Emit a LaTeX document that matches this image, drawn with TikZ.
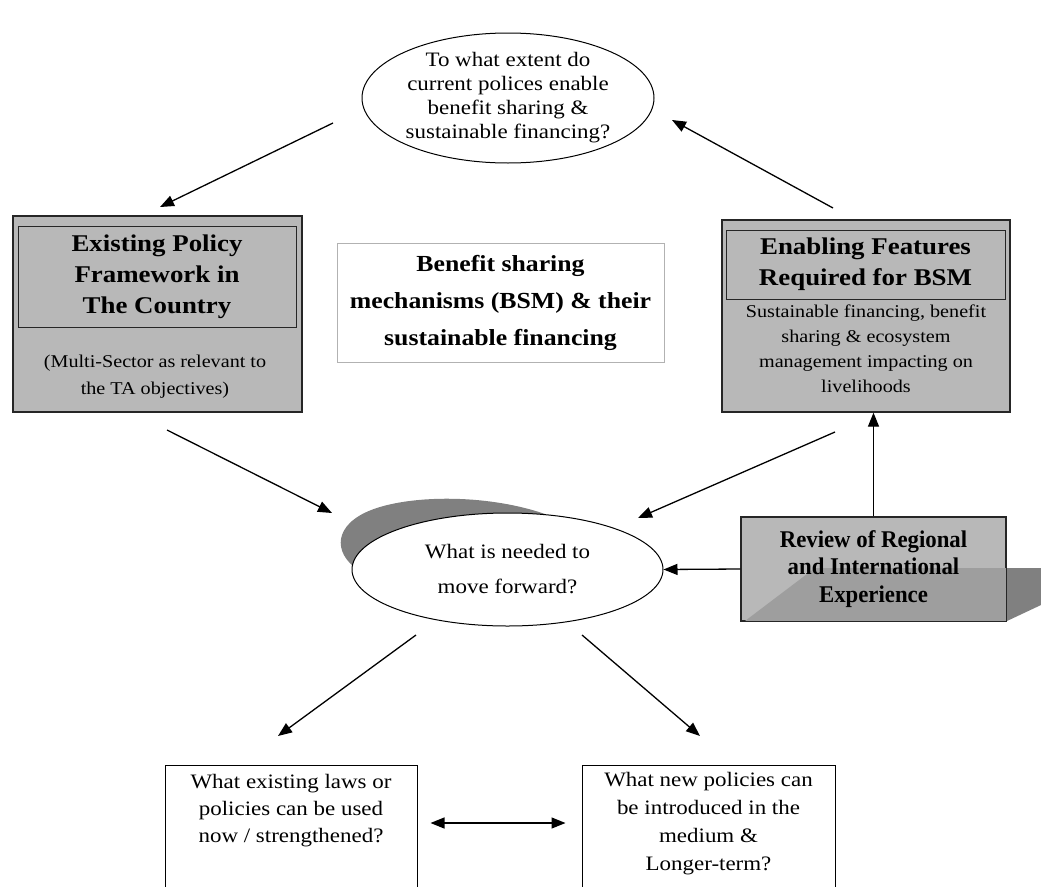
\documentclass[tikz,border=0pt]{standalone}
\usepackage{fontspec}
\setmainfont{Liberation Serif}[FakeStretch=1.12]
\newfontfamily\condfont{Liberation Serif}[FakeStretch=0.95]
\usetikzlibrary{arrows.meta,shapes.geometric}
\definecolor{boxgray}{gray}{0.72}
\definecolor{shadegray}{gray}{0.5}
\definecolor{innershade}{gray}{0.62}

\begin{document}
\begin{tikzpicture}[x = 1pt, y = -1pt,
    arr/.style = {line width = 1.3pt, -{Triangle[length = 14pt, width = 11pt]}},
    dblarr/.style = {line width = 1.3pt, {Triangle[length = 14pt, width = 11pt]}-{Triangle[length = 14pt, width = 11pt]}},
    graybox/.style = {draw = black!85, line width = 1.3pt, fill = boxgray, inner sep = 0pt},
    headbox/.style = {draw = black!85, line width = 1pt, inner sep = 0pt, align = center,
      font = \fontsize{24}{31}\selectfont\bfseries},
    question/.style = {ellipse, draw, line width = 1pt, fill = white, inner sep = 0pt, align = center,
      font = \fontsize{20.5}{24}\selectfont},
    whitebox/.style = {draw, line width = 1pt, fill = white, inner sep = 0pt},
    note/.style = {align = center, inner sep = 0pt, font = \fontsize{18}{25}\selectfont}]

  \useasboundingbox (0, 0) rectangle (1041, 886);
  \clip (0, 0) rectangle (1041, 886);

  % top question
  \node[question, minimum width = 292pt, minimum height = 130pt] (topq) at (508, 98)
    {To what extent do\\current polices enable\\benefit sharing \&\\sustainable financing?};

  % left box
  \node[graybox, minimum width = 289pt, minimum height = 196pt] (policy) at (157.5, 314) {};
  \node[headbox, minimum width = 278pt, minimum height = 101pt] (policyhead) at (157, 276.5)
    {Existing Policy\\Framework in\\The Country};
  \node[note, font = \fontsize{18}{27}\selectfont] (policynote) at (155, 377)
    {(Multi-Sector as relevant to\\the TA objectives)};

  % right box
  \node[graybox, minimum width = 288pt, minimum height = 192pt] (enable) at (866, 316) {};
  \node[headbox, minimum width = 279pt, minimum height = 69pt] (enablehead) at (865.5, 264.5)
    {Enabling Features\\Required for BSM};
  \node[note] (enablenote) at (866, 349)
    {Sustainable financing, benefit\\sharing \& ecosystem\\management impacting on\\livelihoods};

  % centre title
  \node[draw = black!30, line width = 0.8pt, minimum width = 327pt, minimum height = 119pt,
    align = center, font = \fontsize{23}{37}\selectfont\bfseries] (bsm) at (500.5, 302.5)
    {Benefit sharing\\mechanisms (BSM) \& their\\sustainable financing};

  % middle question with its shadow
  \fill[shadegray] (353, 566) .. controls (332, 548) and (336, 520) .. (380, 507)
    .. controls (420, 495) and (490, 495) .. (545, 514) -- (507, 569) -- cycle;
  \node[question, font = \fontsize{20.5}{35}\selectfont, minimum width = 311pt,
    minimum height = 113pt] (midq) at (507.5, 569.5) {What is needed to\\move forward?};

  % review box with its shadow
  \fill[shadegray] (745, 621) -- (815, 568) -- (1041, 568) -- (1041, 605) -- (1007, 621) -- cycle;
  \node[graybox, minimum width = 265pt, minimum height = 104pt] (review) at (873.5, 569) {};
  \fill[innershade] (745, 621) -- (815, 568) -- (1006, 568) -- (1006, 621) -- cycle;
  \draw[draw = black!85, line width = 1.3pt] (review.north west) rectangle (review.south east);
  \node[align = center, font = \fontsize{24}{27.5}\condfont\bfseries] (reviewtext) at (873.5, 569)
    {Review of Regional\\and International\\Experience};

  % bottom boxes
  \node[whitebox, minimum width = 252pt, minimum height = 135pt] (oldlaws) at (291, 832.5) {};
  \node[note, anchor = north, font = \fontsize{20.5}{27}\selectfont] at (291, 774)
    {What existing laws or\\policies can be used\\now / strengthened?};
  \node[whitebox, minimum width = 253pt, minimum height = 135pt] (newpol) at (708.5, 832.5) {};
  \node[note, anchor = north, font = \fontsize{20.5}{28}\selectfont] at (708.5, 772)
    {What new policies can\\be introduced in the\\medium \&\\Longer-term?};

  % arrow ends
  \coordinate (topq-out) at (333, 123);
  \coordinate (policy-in) at (160, 207);
  \coordinate (enable-out) at (833, 208);
  \coordinate (topq-in) at (672, 120);
  \coordinate (policy-out) at (167, 430);
  \coordinate (midq-inl) at (332, 513);
  \coordinate (enable-down) at (835, 432);
  \coordinate (midq-inr) at (638, 518);
  \coordinate (midq-outl) at (416, 635);
  \coordinate (oldlaws-in) at (278, 736);
  \coordinate (midq-outr) at (582, 635);
  \coordinate (newpol-in) at (700, 736);

  \draw[arr] (topq-out) -- (policy-in);
  \draw[arr] (enable-out) -- (topq-in);
  \draw[arr] (policy-out) -- (midq-inl);
  \draw[arr] (enable-down) -- (midq-inr);
  \draw[arr] (review.north) -- (review.north |- enable.south);
  \draw[arr] (review.west) -- (midq.east);
  \draw[arr] (midq-outl) -- (oldlaws-in);
  \draw[arr] (midq-outr) -- (newpol-in);
  \draw[dblarr, shorten <= 13pt, shorten >= 16pt] ([yshift = 9.5pt]oldlaws.east) -- ([yshift = 9.5pt]newpol.west);

\end{tikzpicture}
\end{document}
